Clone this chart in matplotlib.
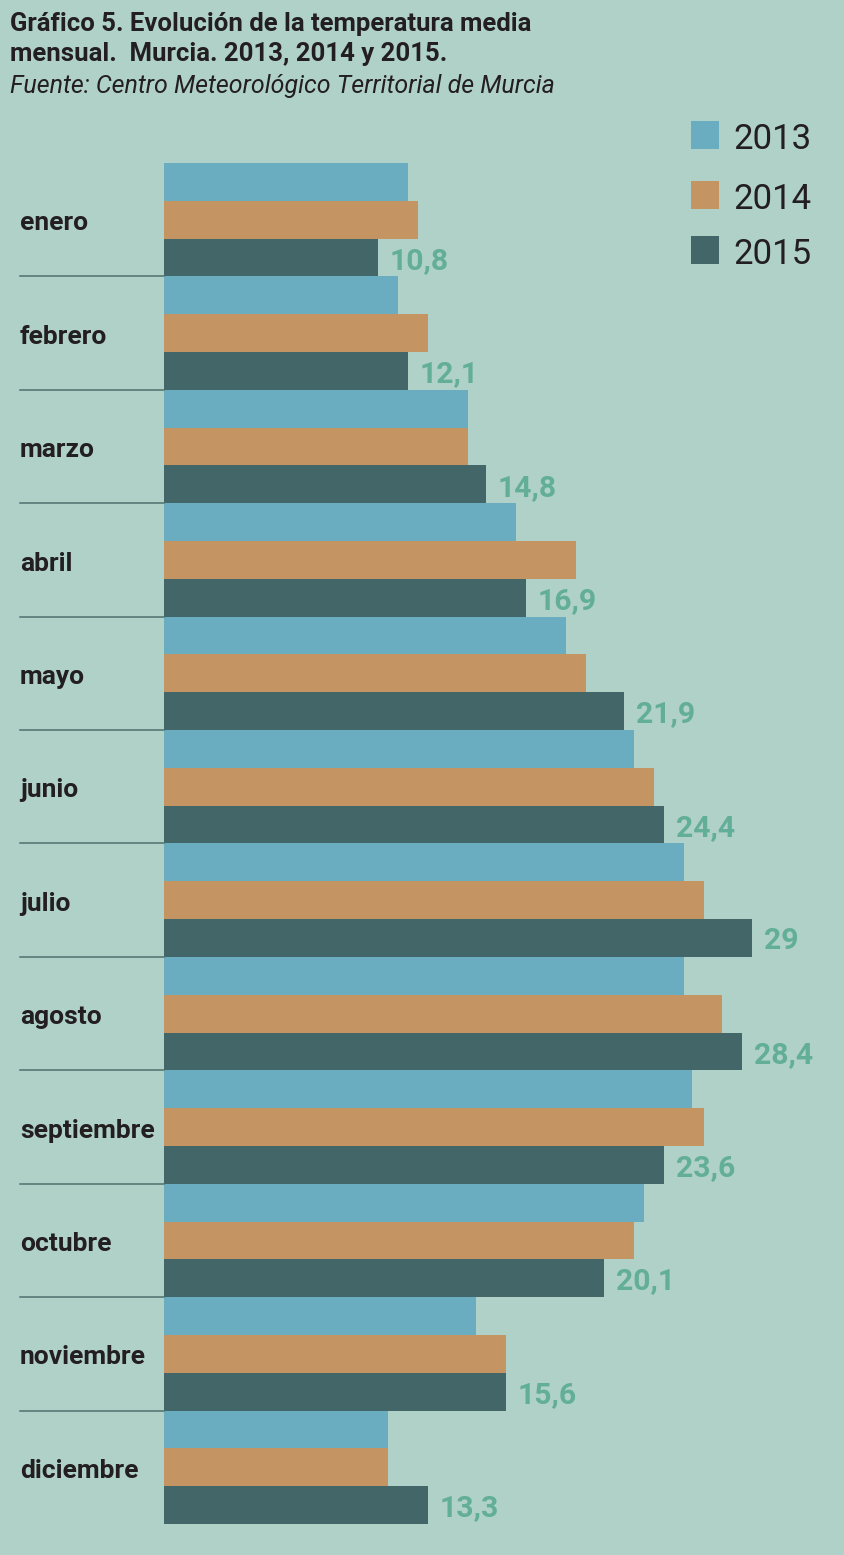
import matplotlib
matplotlib.use('Agg')
import matplotlib.pyplot as plt
from matplotlib.patches import Rectangle
import numpy as np

# datos (°C)
meses = ['enero', 'febrero', 'marzo', 'abril', 'mayo', 'junio', 'julio',
         'agosto', 'septiembre', 'octubre', 'noviembre', 'diciembre']
t2013 = [12.2, 11.7, 15.2, 17.6, 20.1, 23.5, 26.0, 26.0, 26.4, 24.0, 15.6, 11.2]
t2014 = [12.7, 13.2, 15.2, 20.6, 21.1, 24.5, 27.0, 27.9, 27.0, 23.5, 17.1, 11.2]
t2015 = [10.7, 12.2, 16.1, 18.1, 23.0, 25.0, 29.4, 28.9, 25.0, 22.0, 17.1, 13.2]
etiquetas_2015 = ['10,8', '12,1', '14,8', '16,9', '21,9', '24,4', '29',
                  '28,4', '23,6', '20,1', '15,6', '13,3']
anios = ['2013', '2014', '2015']

colores = ['#6badc0', '#c49563', '#436668']
fondo = '#b0d1c8'
verde = '#63ae98'
texto = '#231f20'

W, H = 845, 1555
plt.rcParams['font.family'] = ['Roboto', 'DejaVu Sans']

fig = plt.figure(figsize=(W / 100, H / 100), dpi=100)
fig.patch.set_facecolor(fondo)

x0 = 164
ax = fig.add_axes([x0 / W, 1 - 1524 / H, 1 - x0 / W, 1361 / H])
ax.set_facecolor(fondo)
escala = 20.0  # px por grado
n = len(meses)
base = np.arange(n) * 3
for k, (serie, color) in enumerate(zip([t2013, t2014, t2015], colores)):
    ax.barh(base + k + 0.5, serie, height=1.0, color=color, linewidth=0)

ax.set_xlim(0, (W - x0) / escala)
ax.set_ylim(3 * n, 0)
ax.axis('off')

# etiquetas de 2015
for i, (v, lab) in enumerate(zip(t2015, etiquetas_2015)):
    ax.text(v + 12 / escala, base[i] + 2.5 + 0.3, lab, color=verde,
            fontsize=21.7, fontweight='bold', ha='left', va='baseline')

# meses y separadores
tr = ax.get_yaxis_transform()
xl = -(x0 - 20) / (W - x0)
for i, mes in enumerate(meses):
    ax.text(xl, base[i] + 1.78, mes, transform=tr, color=texto,
            fontsize=19, fontweight='bold', ha='left', va='baseline')
    if i < n - 1:
        ax.plot([xl, 0], [base[i] + 3, base[i] + 3], transform=tr,
                color='#4f7170', lw=1.1, clip_on=False)

# titulo
fig.text(10 / W, 1 - 31 / H, 'Gráfico 5. Evolución de la temperatura media',
         fontsize=18.5, fontweight='bold', color=texto, va='baseline')
fig.text(10 / W, 1 - 61 / H, 'mensual.  Murcia. 2013, 2014 y 2015.',
         fontsize=18.5, fontweight='bold', color=texto, va='baseline')
fig.text(10 / W, 1 - 93 / H, 'Fuente: Centro Meteorológico Territorial de Murcia',
         fontsize=18, fontstyle='italic', color=texto, va='baseline')

# leyenda
leyenda_y = [121, 181, 236]
for anio, color, yy in zip(anios, colores, leyenda_y):
    fig.add_artist(Rectangle((691 / W, 1 - (yy + 28) / H), 28 / W, 28 / H,
                             transform=fig.transFigure, color=color, lw=0))
    fig.text(733 / W, 1 - (yy + 28) / H, anio, fontsize=25, fontweight='normal',
             color=texto, va='baseline', ha='left')

fig.savefig('out.png', dpi=100, facecolor=fondo)
